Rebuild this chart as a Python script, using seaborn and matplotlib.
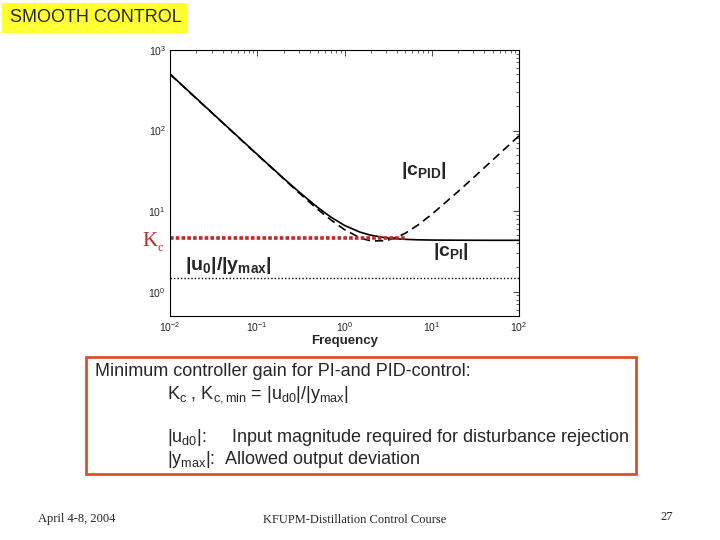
import matplotlib
matplotlib.use("Agg")
import matplotlib.pyplot as plt
from matplotlib.patches import Rectangle
from matplotlib.ticker import LogLocator, NullFormatter
import seaborn as sns
import pandas as pd

# valeurs
freq = [0.01, 0.02, 0.05, 0.1, 0.2, 0.3, 0.5, 0.7, 1, 1.5, 2, 3, 4, 5, 7, 10, 20, 30, 50, 100]
c_pi = [504, 252, 101, 50.6, 25.6, 17.4, 11.0, 8.42, 6.66, 5.50, 5.03, 4.66, 4.53, 4.47, 4.41,
        4.38, 4.36, 4.355, 4.35, 4.35]
c_pid = [500, 250, 100, 50.1, 25.3, 16.9, 10.4, 7.78, 5.90, 4.67, 4.27, 4.30, 4.74, 5.34, 6.77,
         9.13, 17.5, 26.0, 43.2, 86.1]
kc_freq = [0.01, 5]
kc_value = 4.6
u0_ymax = 1.5
xlim = (0.01, 100)
ylim = (0.5, 1000)

df = pd.DataFrame({"freq": freq * 2, "mag": c_pi + c_pid,
                   "ctrl": ["PI"] * len(freq) + ["PID"] * len(freq)})

sns.set_theme(style="white")
plt.rcParams["font.family"] = ["Liberation Sans", "DejaVu Sans"]
plt.rcParams["mathtext.fontset"] = "custom"
plt.rcParams["mathtext.rm"] = "Liberation Sans"
plt.rcParams["mathtext.it"] = "Liberation Sans:italic"
plt.rcParams["mathtext.bf"] = "Liberation Sans:bold"

W, H = 720, 540
fig = plt.figure(figsize=(7.2, 5.4), dpi=100)
ax = fig.add_axes([170 / W, 1 - 316 / H, 349 / W, 266 / H])

sns.lineplot(data=df, x="freq", y="mag", style="ctrl", color="black", linewidth=1.2,
             dashes={"PI": "", "PID": (5, 3)}, legend=False, ax=ax)
ax.plot(xlim, [u0_ymax, u0_ymax], color="black", linestyle=(0, (1, 1.5)), linewidth=1)
ax.plot(kc_freq, [kc_value, kc_value], color="#c0282a", linestyle=(0, (1, 0.6)), linewidth=2.6)

ax.set_xscale("log")
ax.set_yscale("log")
ax.set_xlim(*xlim)
ax.set_ylim(*ylim)
ax.set_xlabel("Frequency", fontsize=9.5, fontweight="bold", labelpad=1)
ax.set_ylabel("")
for a in (ax.xaxis, ax.yaxis):
    a.set_major_locator(LogLocator(base=10, numticks=10))
    a.set_minor_locator(LogLocator(base=10, subs=range(2, 10), numticks=10))
    a.set_minor_formatter(NullFormatter())
ax.tick_params(which="both", direction="in", top=True, right=True, labelsize=7.5, pad=3)
ax.tick_params(which="major", length=4, width=0.6)
ax.tick_params(which="minor", length=2, width=0.5)
for s in ax.spines.values():
    s.set_color("black")
    s.set_linewidth(0.8)

def px(x, y):
    return x / W, 1 - y / H

# étiquettes des courbes
fig.text(*px(401, 170), r"$\mathbf{|c_{PID}|}$", fontsize=14, va="center")
fig.text(*px(433, 252), r"$\mathbf{|c_{PI}|}$", fontsize=14, va="center")
fig.text(*px(185, 266), r"$\mathbf{|u_0|/|y_{max}|}$", fontsize=14, va="center")
fig.text(*px(142, 241), "K", fontsize=15, color="#c0282a", family="Liberation Serif", va="center")
fig.text(*px(157, 248), "c", fontsize=9, color="#c0282a", family="Liberation Serif", va="center")

# titre
fig.patches.append(Rectangle(px(2, 33), 186 / W, 30 / H, transform=fig.transFigure,
                             facecolor="#ffff33", edgecolor="none"))
fig.text(*px(10, 18), "SMOOTH CONTROL", fontsize=13, va="center")

# encadré
fig.patches.append(Rectangle(px(86, 474), 550 / W, 117 / H, transform=fig.transFigure,
                             facecolor="none", edgecolor="#d9502a", linewidth=2))
fig.text(*px(95, 372), "Minimum controller gain for PI-and PID-control:", fontsize=13, va="center")
fig.text(*px(167, 395), r"K$_\mathrm{c}$ , K$_\mathrm{c,min}$ = |u$_\mathrm{d0}$|/|y$_\mathrm{max}$|",
         fontsize=13, va="center")
fig.text(*px(167, 437), r"|u$_\mathrm{d0}$|:     Input magnitude required for disturbance rejection",
         fontsize=13, va="center")
fig.text(*px(167, 459), r"|y$_\mathrm{max}$|:  Allowed output deviation", fontsize=13, va="center")

# pied de page
fig.text(*px(38, 519), "April 4-8, 2004", fontsize=9, family="Liberation Serif", va="center")
fig.text(*px(355, 520), "KFUPM-Distillation Control Course", fontsize=9, family="Liberation Serif",
         va="center", ha="center")
fig.text(*px(660, 517), "27", fontsize=9, family="Liberation Serif", va="center")

fig.savefig("out.png", dpi=100)
